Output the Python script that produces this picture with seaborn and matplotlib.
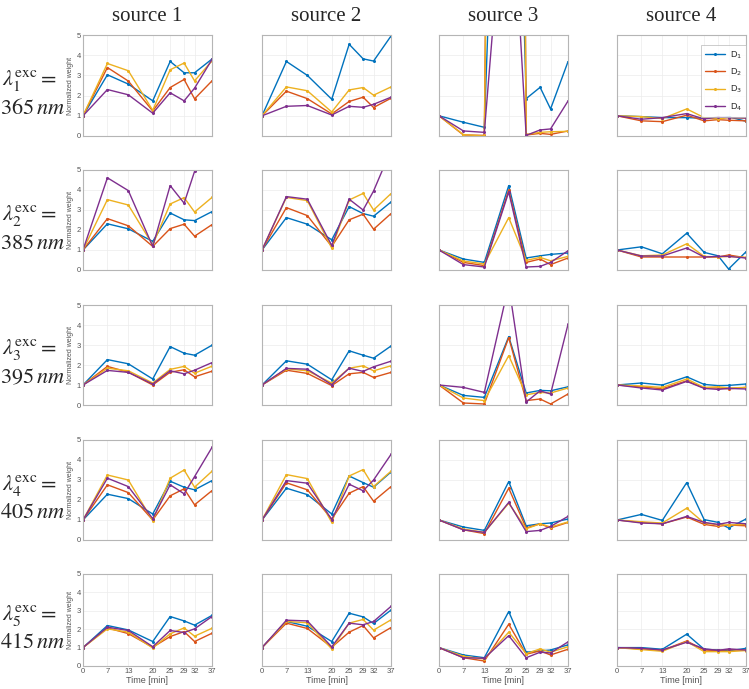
import numpy as np
import pandas as pd
import matplotlib
matplotlib.use("Agg")
import matplotlib.pyplot as plt
import seaborn as sns

# -------------------------
# Data: normalized weights per excitation row and source column
# -------------------------
time_min = [0, 7, 13, 20, 25, 29, 32, 37]
series = ["D$_1$", "D$_2$", "D$_3$", "D$_4$"]
sources = ["source 1", "source 2", "source 3", "source 4"]
exc_index = [1, 2, 3, 4, 5]
exc_nm = [365, 385, 395, 405, 415]

r1_s1 = [[1, 3.03, 2.57, 1.74, 3.69, 3.13, 3.13, 3.81],
         [1, 3.39, 2.72, 1.24, 2.40, 2.80, 1.84, 2.73],
         [1, 3.59, 3.23, 1.27, 3.28, 3.61, 2.73, 3.72],
         [1, 2.30, 2.04, 1.13, 2.14, 1.74, 2.37, 3.79]]
r1_s2 = [[1, 3.69, 3.00, 1.82, 4.54, 3.82, 3.71, 4.95],
         [1, 2.22, 1.85, 1.09, 1.71, 1.92, 1.41, 1.87],
         [1, 2.43, 2.24, 1.19, 2.28, 2.40, 2.02, 2.43],
         [1, 1.47, 1.51, 1.04, 1.47, 1.42, 1.57, 1.92]]
r1_s3 = [[1, 0.68, 0.43, 34.0, 1.85, 2.41, 1.34, 3.68],
         [1, 0.05, 0.03, 120.0, 0.05, 0.13, 0.08, 0.25],
         [1, 0.07, 0.00, 100.0, 0.08, 0.18, 0.21, 0.23],
         [1, 0.25, 0.18, 15.0, 0.03, 0.30, 0.35, 1.73]]
r1_s4 = [[1, 0.96, 0.91, 0.91, 0.88, 0.88, 0.95, 0.73],
         [1, 0.75, 0.71, 1.03, 0.75, 0.81, 0.78, 0.75],
         [1, 0.96, 0.86, 1.34, 0.91, 0.84, 0.91, 0.88],
         [1, 0.83, 0.91, 1.11, 0.84, 0.94, 0.91, 0.89]]

r2_s1 = [[1, 2.31, 2.06, 1.43, 2.85, 2.51, 2.47, 2.92],
         [1, 2.57, 2.21, 1.18, 2.07, 2.29, 1.69, 2.27],
         [1, 3.52, 3.25, 1.26, 3.30, 3.62, 2.90, 3.63],
         [1, 4.61, 3.97, 1.18, 4.22, 3.34, 4.93, 7.50]]
r2_s2 = [[1, 2.62, 2.29, 1.51, 3.17, 2.82, 2.69, 3.40],
         [1, 3.12, 2.72, 1.18, 2.51, 2.79, 2.04, 2.82],
         [1, 3.63, 3.47, 1.10, 3.50, 3.83, 3.00, 3.82],
         [1, 3.67, 3.54, 1.23, 3.54, 3.00, 3.95, 6.00]]
r2_s3 = [[1, 0.55, 0.38, 4.22, 0.60, 0.71, 0.78, 0.85],
         [1, 0.38, 0.22, 4.00, 0.38, 0.55, 0.27, 0.60],
         [1, 0.45, 0.30, 2.62, 0.48, 0.63, 0.46, 0.68],
         [1, 0.27, 0.15, 3.90, 0.15, 0.18, 0.38, 0.96]]
r2_s4 = [[1, 1.16, 0.81, 1.84, 0.88, 0.71, 0.05, 0.91],
         [1, 0.65, 0.65, 0.65, 0.65, 0.65, 0.75, 0.61],
         [1, 0.71, 0.75, 1.31, 0.68, 0.65, 0.68, 0.63],
         [1, 0.70, 0.70, 1.10, 0.65, 0.68, 0.68, 0.60]]

r3_s1 = [[1, 2.27, 2.06, 1.30, 2.92, 2.59, 2.49, 2.99],
         [1, 1.93, 1.64, 1.00, 1.64, 1.76, 1.41, 1.69],
         [1, 1.84, 1.71, 1.10, 1.78, 1.93, 1.59, 1.94],
         [1, 1.73, 1.63, 1.05, 1.71, 1.56, 1.74, 2.12]]
r3_s2 = [[1, 2.21, 2.04, 1.26, 2.71, 2.49, 2.34, 2.95],
         [1, 1.74, 1.58, 0.97, 1.56, 1.63, 1.38, 1.63],
         [1, 1.81, 1.71, 1.10, 1.84, 1.96, 1.71, 1.96],
         [1, 1.83, 1.79, 1.02, 1.84, 1.68, 1.91, 2.19]]
r3_s3 = [[1, 0.48, 0.38, 3.42, 0.60, 0.73, 0.71, 0.91],
         [1, 0.10, 0.05, 3.37, 0.22, 0.30, 0.05, 0.55],
         [1, 0.35, 0.22, 2.47, 0.51, 0.63, 0.60, 0.85],
         [1, 0.88, 0.63, 6.00, 0.15, 0.71, 0.55, 4.03]]
r3_s4 = [[1, 1.10, 1.00, 1.41, 1.03, 0.97, 0.98, 1.05],
         [1, 0.91, 0.81, 1.21, 0.85, 0.85, 0.81, 0.88],
         [1, 0.95, 0.88, 1.30, 0.88, 0.91, 0.85, 0.88],
         [1, 0.85, 0.75, 1.18, 0.83, 0.78, 0.83, 0.80]]

r4_s1 = [[1, 2.29, 2.07, 1.30, 2.94, 2.64, 2.51, 2.97],
         [1, 2.76, 2.37, 1.00, 2.21, 2.56, 1.76, 2.47],
         [1, 3.25, 3.00, 0.96, 3.09, 3.50, 2.64, 3.44],
         [1, 3.09, 2.67, 1.07, 2.76, 2.31, 3.17, 4.63]]
r4_s2 = [[1, 2.59, 2.27, 1.30, 3.20, 2.87, 2.64, 3.40],
         [1, 2.86, 2.51, 1.05, 2.34, 2.67, 1.94, 2.67],
         [1, 3.27, 3.07, 0.88, 3.20, 3.52, 2.67, 3.44],
         [1, 2.97, 2.84, 1.02, 2.79, 2.46, 3.00, 4.28]]
r4_s3 = [[1, 0.65, 0.48, 2.92, 0.71, 0.81, 0.85, 1.05],
         [1, 0.51, 0.32, 2.59, 0.60, 0.81, 0.60, 0.88],
         [1, 0.55, 0.38, 1.84, 0.56, 0.81, 0.65, 0.90],
         [1, 0.51, 0.38, 1.88, 0.42, 0.48, 0.68, 1.18]]
r4_s4 = [[1, 1.28, 0.98, 2.87, 1.02, 0.88, 0.60, 1.05],
         [1, 0.88, 0.81, 1.15, 0.78, 0.68, 0.75, 0.71],
         [1, 0.91, 0.85, 1.59, 0.85, 0.76, 0.75, 0.78],
         [1, 0.85, 0.81, 1.18, 0.88, 0.78, 0.88, 0.81]]

r5_s1 = [[1, 2.20, 1.96, 1.33, 2.69, 2.45, 2.22, 2.75],
         [1, 2.07, 1.76, 1.02, 1.60, 1.87, 1.33, 1.78],
         [1, 2.02, 1.84, 0.98, 1.75, 2.07, 1.62, 2.05],
         [1, 2.11, 1.93, 1.05, 1.93, 1.82, 2.02, 2.69]]
r5_s2 = [[1, 2.42, 2.16, 1.33, 2.87, 2.67, 2.31, 3.04],
         [1, 2.33, 2.04, 1.02, 1.84, 2.20, 1.53, 2.09],
         [1, 2.42, 2.35, 0.93, 2.33, 2.53, 1.95, 2.51],
         [1, 2.49, 2.45, 1.04, 2.33, 2.24, 2.42, 3.24]]
r5_s3 = [[1, 0.60, 0.45, 2.96, 0.75, 0.82, 0.87, 1.15],
         [1, 0.45, 0.27, 2.27, 0.64, 0.82, 0.60, 0.91],
         [1, 0.53, 0.38, 1.84, 0.67, 0.93, 0.75, 1.05],
         [1, 0.45, 0.42, 1.65, 0.45, 0.75, 0.71, 1.31]]
r5_s4 = [[1, 1.00, 0.91, 1.73, 0.91, 0.87, 0.82, 0.96],
         [1, 0.93, 0.85, 1.36, 0.87, 0.84, 0.89, 0.85],
         [1, 0.89, 0.80, 1.33, 0.78, 0.78, 0.78, 0.84],
         [1, 0.96, 0.87, 1.29, 0.93, 0.85, 0.93, 0.87]]

panels = [[r1_s1, r1_s2, r1_s3, r1_s4],
          [r2_s1, r2_s2, r2_s3, r2_s4],
          [r3_s1, r3_s2, r3_s3, r3_s4],
          [r4_s1, r4_s2, r4_s3, r4_s4],
          [r5_s1, r5_s2, r5_s3, r5_s4]]

colors = ["#0072BD", "#D95319", "#EDB120", "#7E2F8E"]

# -------------------------
# Figure layout (pixel based, like the MATLAB subplot grid)
# -------------------------
sns.set_style("white")
plt.rcParams["font.family"] = ["Liberation Sans", "DejaVu Sans"]

W, H = 749, 689
fig = plt.figure(figsize=(W / 100, H / 100), dpi=100)

col_left = [83, 262, 439, 617]
col_width = 129
row_span = [(35, 136), (170, 270), (305, 405), (440, 540), (574, 666)]

grey = "#b5b5b5"
tick_grey = "#555555"

for r in range(5):
    top, bot = row_span[r]
    for c in range(4):
        ax = fig.add_axes([col_left[c] / W, 1 - bot / H, col_width / W, (bot - top) / H])
        vals = panels[r][c]
        df = pd.DataFrame({
            "time": np.tile(time_min, 4),
            "weight": np.concatenate(vals),
            "series": np.repeat(series, len(time_min)),
        })
        show_leg = (r == 0 and c == 3)
        sns.lineplot(data=df, x="time", y="weight", hue="series", hue_order=series,
                     palette=colors, marker="o", markersize=2.2, markeredgewidth=0,
                     linewidth=1.0, legend=show_leg, ax=ax)
        ax.set_xlim(0, 37)
        ax.set_ylim(0, 5)
        ax.set_xticks(time_min)
        ax.set_yticks([0, 1, 2, 3, 4, 5])
        ax.grid(True, color="#ececec", linewidth=0.5)
        ax.set_axisbelow(True)
        for sp in ax.spines.values():
            sp.set_color(grey)
            sp.set_linewidth(0.8)
        ax.tick_params(direction="in", length=2, width=0.5, color=grey,
                       labelsize=5.5, labelcolor=tick_grey, pad=1.5)
        if c == 0:
            ax.set_ylabel("Normalized weight", fontsize=5, color=tick_grey, labelpad=2)
        else:
            ax.set_ylabel("")
            ax.set_yticklabels([])
        if r == 4:
            ax.set_xlabel("Time [min]", fontsize=6.5, color=tick_grey, labelpad=1)
        else:
            ax.set_xlabel("")
            ax.set_xticklabels([])
        if r == 0:
            ax.set_title(sources[c], fontsize=15, family="Liberation Serif", pad=10)
        if show_leg:
            sns.move_legend(ax, "upper right", bbox_to_anchor=(1.0, 0.9), title=None,
                            fontsize=6.5, frameon=True, borderaxespad=0, handlelength=2.2,
                            labelspacing=0.65, borderpad=0.45, handletextpad=0.5,
                            fancybox=False)
            leg = ax.get_legend()
            leg.get_frame().set_edgecolor(grey)
            leg.get_frame().set_linewidth(0.6)

    mid = (top + bot) / 2
    fig.text(2 / W, 1 - (mid - 5) / H, r"$\lambda_{%d}^{\rm exc} =$" % exc_index[r],
             fontsize=16, math_fontfamily="stix", ha="left", va="center")
    fig.text(0 / W, 1 - (mid + 23) / H, r"$%d\,nm$" % exc_nm[r],
             fontsize=16, math_fontfamily="stix", ha="left", va="center")

fig.savefig("out.png", dpi=100)
